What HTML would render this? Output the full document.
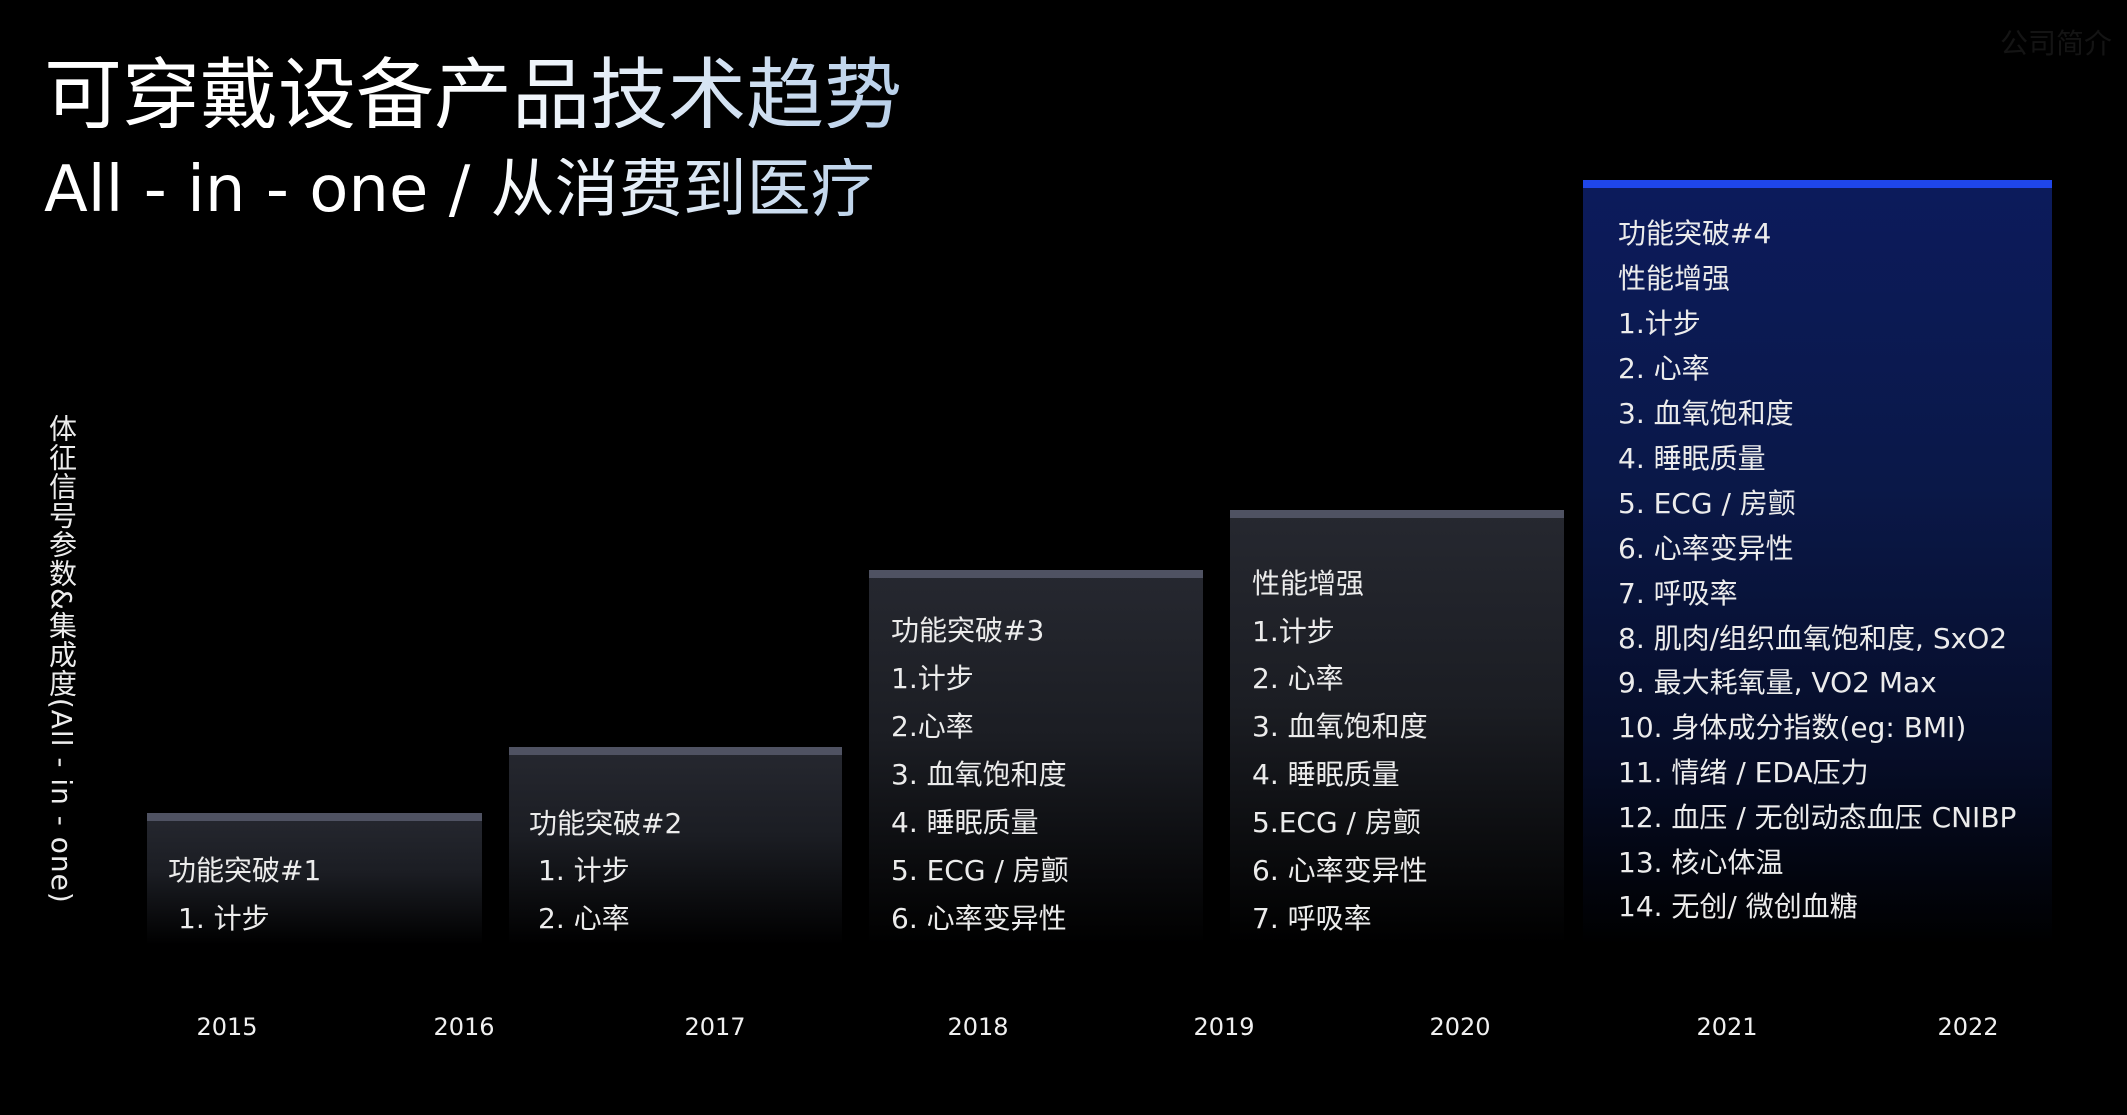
<!DOCTYPE html>
<html><head><meta charset="utf-8"><style>
html,body{margin:0;padding:0;background:#000;}
body{width:2127px;height:1115px;position:relative;overflow:hidden;font-family:"DejaVu Sans","Noto Sans CJK SC",sans-serif;color:#ececec;}
.a{position:absolute;white-space:nowrap;line-height:1;}
.box{position:absolute;background:linear-gradient(#262830 0%,#1b1d23 45%,#000 100%);}
.box::before{content:"";position:absolute;left:0;right:0;top:0;height:8px;background:#4f5262;}
.blue{background:linear-gradient(#0c1b5c 0%,#0a1848 40%,#060d28 75%,#000 100%);}
.blue::before{background:#1f46ea;}
.t{font-size:28px;margin-top:-1px;}
.yr{font-size:24px;transform:translateX(-50%);color:#f0f0f0;}
</style></head><body>
<div class="a" style="left:44px;top:50px;font-size:78px;font-family:'Noto Sans CJK SC',sans-serif;background:linear-gradient(90deg,#fff 0%,#fff 45%,#b9d0ea 100%);-webkit-background-clip:text;background-clip:text;color:transparent;">可穿戴设备产品技术趋势</div>
<div class="a" style="left:44px;top:158px;font-size:64px;background:linear-gradient(90deg,#fff 0%,#fff 50%,#bcd2ea 100%);-webkit-background-clip:text;background-clip:text;color:transparent;">All - in - one / 从消费到医疗</div>
<div class="a" style="left:2000px;top:30px;font-size:28px;color:#141414;">公司简介</div>
<div class="a" style="left:47px;top:414px;font-size:28px;letter-spacing:1px;writing-mode:vertical-rl;">体征信号参数&amp;集成度(All - in - one)</div>

<div class="box" style="left:147px;top:813px;width:335px;height:132px;"></div>
<div class="box" style="left:509px;top:747px;width:333px;height:198px;"></div>
<div class="box" style="left:869px;top:570px;width:334px;height:375px;"></div>
<div class="box" style="left:1230px;top:510px;width:334px;height:435px;"></div>
<div class="box blue" style="left:1583px;top:180px;width:469px;height:765px;"></div>

<div class="a t" style="left:168px;top:858px;">功能突破#1</div>
<div class="a t" style="left:178px;top:906px;">1. 计步</div>

<div class="a t" style="left:529px;top:811px;">功能突破#2</div>
<div class="a t" style="left:538px;top:858px;">1. 计步</div>
<div class="a t" style="left:538px;top:906px;">2. 心率</div>

<div class="a t" style="left:891px;top:618px;">功能突破#3</div>
<div class="a t" style="left:891px;top:666px;">1.计步</div>
<div class="a t" style="left:891px;top:714px;">2.心率</div>
<div class="a t" style="left:891px;top:762px;">3. 血氧饱和度</div>
<div class="a t" style="left:891px;top:810px;">4. 睡眠质量</div>
<div class="a t" style="left:891px;top:858px;">5. ECG / 房颤</div>
<div class="a t" style="left:891px;top:906px;">6. 心率变异性</div>

<div class="a t" style="left:1252px;top:571px;">性能增强</div>
<div class="a t" style="left:1252px;top:619px;">1.计步</div>
<div class="a t" style="left:1252px;top:666px;">2. 心率</div>
<div class="a t" style="left:1252px;top:714px;">3. 血氧饱和度</div>
<div class="a t" style="left:1252px;top:762px;">4. 睡眠质量</div>
<div class="a t" style="left:1252px;top:810px;">5.ECG / 房颤</div>
<div class="a t" style="left:1252px;top:858px;">6. 心率变异性</div>
<div class="a t" style="left:1252px;top:906px;">7. 呼吸率</div>

<div class="a t" style="left:1618px;top:221px;">功能突破#4</div>
<div class="a t" style="left:1618px;top:266px;">性能增强</div>
<div class="a t" style="left:1618px;top:311px;">1.计步</div>
<div class="a t" style="left:1618px;top:356px;">2. 心率</div>
<div class="a t" style="left:1618px;top:401px;">3. 血氧饱和度</div>
<div class="a t" style="left:1618px;top:446px;">4. 睡眠质量</div>
<div class="a t" style="left:1618px;top:491px;">5. ECG / 房颤</div>
<div class="a t" style="left:1618px;top:536px;">6. 心率变异性</div>
<div class="a t" style="left:1618px;top:581px;">7. 呼吸率</div>
<div class="a t" style="left:1618px;top:626px;">8. 肌肉/组织血氧饱和度, SxO2</div>
<div class="a t" style="left:1618px;top:670px;">9. 最大耗氧量, VO2 Max</div>
<div class="a t" style="left:1618px;top:715px;">10. 身体成分指数(eg: BMI)</div>
<div class="a t" style="left:1618px;top:760px;">11. 情绪 / EDA压力</div>
<div class="a t" style="left:1618px;top:805px;">12. 血压 / 无创动态血压 CNIBP</div>
<div class="a t" style="left:1618px;top:850px;">13. 核心体温</div>
<div class="a t" style="left:1618px;top:894px;">14. 无创/ 微创血糖</div>

<div class="a yr" style="left:227px;top:1015px;">2015</div>
<div class="a yr" style="left:464px;top:1015px;">2016</div>
<div class="a yr" style="left:715px;top:1015px;">2017</div>
<div class="a yr" style="left:978px;top:1015px;">2018</div>
<div class="a yr" style="left:1224px;top:1015px;">2019</div>
<div class="a yr" style="left:1460px;top:1015px;">2020</div>
<div class="a yr" style="left:1727px;top:1015px;">2021</div>
<div class="a yr" style="left:1968px;top:1015px;">2022</div>
</body></html>
